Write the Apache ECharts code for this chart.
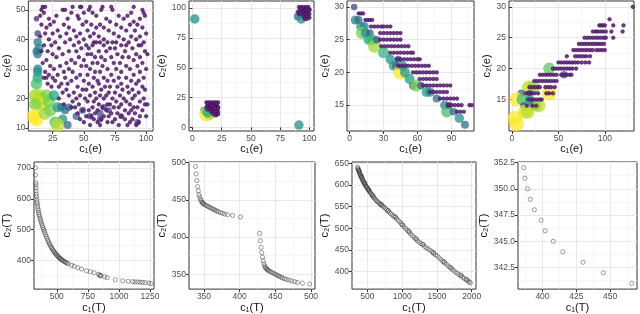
<!DOCTYPE html>
<html><head><meta charset="utf-8">
<script src="https://cdn.jsdelivr.net/npm/echarts@6/dist/echarts.min.js"></script>
<style>html,body{margin:0;padding:0;background:#fff}#c{width:640px;height:314px}</style>
</head><body><div id="c"></div>
<script>
// ---------------- DATA ----------------
// Panel 1 (top-left): colored points [c1, c2, level 0..1]
const P1_COLORED = [
 [12,47,0.1],[13,42,0.2],[13,39,0.4],[14,37,0.45],[12,36,0.35],[13,35,0.4],
 [13,30,0.45],[13,29,0.5],[13,27,0.6],[12,25,0.7],
 [11,21,0.85],[14,21,0.9],[17,20,0.85],[20,21,0.8],[13,19,0.9],[16,18,0.95],[22,19,0.8],[26,21,0.6],[11,18,0.8],
 [10,14,1.0],[12,13,1.0],[19,15,0.85],[23,16,0.8],[29,17,0.55],[32,17,0.4],[35,16,0.35],[38,17,0.3],
 [33,13,0.5],[27,12,0.7],[29,11,0.9],[37,11,0.35],[44,14,0.3],[49,16,0.25],[55,14,0.2],[63,15,0.25],
 [63,13,0.2],[66,17,0.2],[70,16,0.15],[80,14,0.15],[93,12,0.2]
];
// Panel 1 purple points by row: [c2, [c1 values]]
const P1_PURPLE_ROWS = [
 [51,[17,19,41,47,48,55,65,72,90]],
 [50,[16,33,35,54,64,73,97]],
 [49,[18,40,50,57,88,98]],
 [48,[15,28,45,60,78,85,99]],
 [47,[22,37,46,68,82,95]],
 [46,[26,52,71,90]],
 [45,[16,23,34,49,56,63,76,87,93]],
 [44,[20,38,60,66,80,97]],
 [43,[29,42,53,70,84,91]],
 [42,[19,25,36,47,58,74,100]],
 [41,[15,31,44,55,62,78,88,95]],
 [40,[22,39,50,66,82,92]],
 [39,[27,35,46,58,60,63,69,73,76,86,98]],
 [38,[18,24,42,52,57,66,80,84,94,96]],
 [37,[30,48,54,71,75,89]],
 [36,[16,21,38,44,62,68,83,99]],
 [35,[25,33,53,56,77,92,101]],
 [34,[28,46,59,64,72,81,86,95]],
 [33,[20,40,50,67,90]],
 [32,[17,36,43,57,61,74,79,97]],
 [31,[23,31,48,52,65,84,93]],
 [30,[26,38,55,69,76,87,100]],
 [29,[19,34,41,59,63,80,95]],
 [28,[22,29,47,53,72,90]],
 [27,[18,20,25,35,44,58,66,78,84,98]],
 [26,[27,40,50,61,69,74,88,94]],
 [25,[21,32,37,54,62,80,92]],
 [24,[24,30,45,57,67,71,77,85,97]],
 [23,[36,49,52,64,81,89,99]],
 [22,[33,42,59,70,75,86,94]],
 [21,[38,47,55,63,68,79,91]],
 [20,[30,44,51,60,66,73,82,89,98]],
 [19,[41,53,58,76,84,95]],
 [18,[34,46,62,69,71,80,87,99,101]],
 [17,[40,43,57,65,74,78,90,93]],
 [16,[49,54,61,68,83,88,97]],
 [15,[45,59,72,77,86,91]],
 [14,[52,56,66,70,80,95,100]],
 [13,[47,58,64,75,83,89]],
 [12,[50,61,69,73,87,94]],
 [11,[55,63,78,85,92]]
];
// Panel 2
const P2_COLORED = [[2,91,0.5],[91,2,0.5],[90,93,0.35],[93,91,0.5],[10,14,0.35],[12,11,1.0],[15,12,0.85],[13,13,0.6]];
const P2_PURPLE = [
 [12,21],[14,21],[16,21],[18,21],[20,21],[22,21],[13,19],[15,19],[17,19],[19,19],[21,19],[12,17],[14,17],[16,17],[18,17],[20,17],[22,17],
 [13,15],[15,15],[17,15],[19,15],[21,15],[22,13],[16,13],[18,13],[20,13],[21,11],[18,11],[20,10],[22,11],[13,20],[20,20],[17,18],[22,16],[19,16],
 [91,101],[93,101],[95,101],[97,101],[99,101],[92,99],[94,99],[96,99],[98,99],[100,99],[90,97],[93,97],[95,97],[97,97],[99,97],
 [91,95],[94,95],[96,95],[98,95],[100,95],[95,93],[97,93],[99,93],[96,91],[98,91],[100,92],[93,100],[98,100],[100,98],[92,96],[97,98]
];
// Panel 3
const P3_COLORED = [
 [4,30,0.2],[5,28,0.45],[8,28,0.35],[10,27,0.5],[13,27,0.45],[11,26,0.8],[14,26,0.5],[17,25,0.6],[18,26,0.3],
 [20,25,0.65],[22,24,0.85],[24,25,0.3],[30,23,0.65],[36,22,0.5],[39,21,0.55],[41,21,0.35],[43,22,0.25],
 [45,20,1.0],[47,21,0.5],[49,20,0.55],[53,19,0.55],[56,18,0.35],[59,18,0.8],[63,18,0.3],[68,17,0.55],
 [71,17,0.5],[77,16,0.35],[84,15,0.45],[86,14,0.7],[88,15,0.25],[92,14,0.3],[97,13,0.5],[102,12,0.35]
];
const P3_PURPLE_ROWS = [
 [29,[8,10,12]],
 [28,[14,16,18,20]],
 [27,[19,22,25,28,30,33,36]],
 [26,[27,30,33,36,39,42,45]],
 [25,[27,30,33,36,39,42,45]],
 [24,[28,31,34,37,40,43,46,49,52]],
 [23,[36,39,42,45,48,51,54,56]],
 [22,[42,45,48,51,54,57,60,62]],
 [21,[43,46,49,52,55,58,61,64,67,70]],
 [20,[56,59,62,65,68,71,74,77]],
 [19,[62,65,68,71,74,77]],
 [18,[65,68,71,74,77,80,83,86,89]],
 [17,[71,74,77,80,83,86]],
 [16,[80,83,86,89,92,95]],
 [15,[87,90,93,96,99,106,108]],
 [14,[95,98,101]]
];
// Panel 4
const P4_COLORED = [
 [40,20,0.75],[56,19,0.3],[18,17,0.9],[23,17,0.85],[10,16,0.3],[19,16,0.2],[40,16,1.0],[5,15,1.0],
 [11,15,0.7],[19,15,0.5],[13,14,0.3],[22,14,0.5],[26,14,0.55],[29,14,0.9],[3,12,1.0],[14,13,0.95],
 [5,11,1.0],[17,13,0.9]
];
const P4_PURPLE_ROWS = [
 [30,[130]],
 [28,[105]],
 [27,[94,96,98,100,109,120]],
 [26,[87,90,92,95,98,101,107,119]],
 [25,[78,81,84,87,90,93,96,99,101,109]],
 [24,[72,75,78,81,84,87,90,93,96,99]],
 [23,[66,69,72,75,78,81,84,87,91,94,97,100]],
 [22,[59,68,71,74,77,80,84]],
 [21,[50,53,56,59,62,65,68,71,75,79,83]],
 [20,[44,47,50,53,56,59,62,65,69]],
 [19,[30,33,36,39,42,45,48,53,56,59,62,64]],
 [18,[24,27,30,33,36,39,42,45,48]],
 [17,[19,22,25,28,30,36,39,42,46]],
 [16,[15,18,21,24,28,37,40,44]],
 [15,[18,21,24,27,30,32]],
 [14,[16,22,26]]
];
// Panel 5 (bottom)
const P5_POINTS = [
 [328,700],[329,677],[331,652],[332,645],[333,635],[334,625],[336,615],[338,607],[340,598],[342,590],[344,584],
 [346,576],[349,568],[352,562],[355,555],[358,549],[362,543],[366,537],[370,531],[374,525],[379,519],[384,513],
 [389,507],[394,501],[399,496],[404,490],[410,484],[416,478],[422,472],[428,466],[434,461],[440,456],[446,451],
 [452,446],[458,442],[464,438],[470,434],[476,430],[482,427],[488,424],[494,421],[500,418],[506,415],[512,413],
 [518,410],[524,408],[530,406],[536,404],[542,402],[550,400],[558,398],[566,396],[574,394],[582,392],[592,390],
 [620,385],[640,382],[670,377],[700,373],[740,367],[770,364],[800,361],[835,356],[845,353],[850,351],[855,352],
 [885,348],[905,345],[970,338],[1030,335],[1075,333],[1110,332],[1130,331],[1150,331],[1170,330],[1190,330],
 [1210,329],[1240,328],[1258,326]
];
// Panel 6
const P6_POINTS = [
 [338,495],[339,485],[340,476],[341,468],[342,462],[343,457],[344,454],[345,451],[346,449],[347,447],[348,446],
 [349,445],[350,444],[352,443],[354,442],[356,441],[358,440],[360,439],[362,438],[364,437],[366,436],[368,435],
 [370,434],[373,433],[376,432],[379,431],[383,430],[390,429],[401,427],
 [428,405],[429,395],[430,386],[431,379],[432,373],[433,368],[434,364],[435,361],[436,359],[437,358],[438,357],
 [439,356],[440,355],[442,354],[444,353],[446,352],[448,351],[450,350],[452,349],[454,348],[456,347],[458,346],
 [460,345],[463,344],[466,343],[469,342],[473,341],[477,340],[481,339],[488,338],[498,337]
];
// Panel 7
const P7_POINTS = [
 [360,641],[364,638],[368,636],[372,634],[377,632],[382,630],[387,628],[392,626],[397,624],[402,622],[407,620],
 [412,618],[418,616],[424,614],[430,612],[436,610],[442,608],[448,606],[455,604],[462,602],[469,600],[476,598],
 [483,596],[490,595],[497,593],[505,591],[513,589],[521,587],[530,585],[540,583],[550,580],[560,578],[572,575],
 [585,572],[598,570],[612,567],[626,564],[640,562],[655,560],[670,557],[686,555],[702,553],[720,551],[738,549],
 [757,546],[776,543],[795,540],[815,537],[835,534],[856,531],[877,528],[898,525],[920,522],[942,518],[964,515],
 [986,511],[1008,507],[1030,503],[1052,499],[1075,495],[1098,491],[1121,487],[1145,483],[1170,479],[1195,475],
 [1220,471],[1245,468],[1270,465],[1296,462],[1322,458],[1348,455],[1374,452],[1400,449],[1426,446],[1452,442],
 [1478,439],[1504,436],[1530,432],[1556,428],[1582,424],[1608,420],[1634,417],[1660,413],[1686,410],[1712,406],
 [1738,403],[1764,399],[1790,396],[1816,393],[1842,390],[1868,387],[1894,384],[1920,381],[1946,378],[1966,376],[1980,374],
 [380,633],[420,619],[460,605],[520,589],[580,576],[700,556],[800,541],[900,527],[1000,508],[1100,493],[1200,476],
 [1300,463],[1450,444],[1600,423],[1700,409],[1850,392],[1930,382]
];
// Panel 8
const P8_POINTS = [[386,352],[387,351],[389,350],[391,349],[394,348],[399,347],[402,346],[408,345],[415,344],[430,343],[445,342],[466,341]];

// Tick values
const P1_XTICKS=[25,50,75,100], P1_XMINOR=[12.5,37.5,62.5,87.5], P1_YTICKS=[10,20,30,40,50], P1_YMINOR=[15,25,35,45];
const P2_XTICKS=[0,25,50,75,100], P2_XMINOR=[12.5,37.5,62.5,87.5], P2_YTICKS=[0,25,50,75,100], P2_YMINOR=[12.5,37.5,62.5,87.5];
const P3_XTICKS=[0,30,60,90], P3_XMINOR=[15,45,75,105], P3_YTICKS=[15,20,25,30], P3_YMINOR=[12.5,17.5,22.5,27.5];
const P4_XTICKS=[0,50,100], P4_XMINOR=[25,75,125], P4_YTICKS=[15,20,25,30], P4_YMINOR=[12.5,17.5,22.5,27.5];
const P5_XTICKS=[500,750,1000,1250], P5_XMINOR=[375,625,875,1125], P5_YTICKS=[400,500,600,700], P5_YMINOR=[350,450,550,650];
const P6_XTICKS=[350,400,450,500], P6_XMINOR=[375,425,475], P6_YTICKS=[350,400,450,500], P6_YMINOR=[375,425,475];
const P7_XTICKS=[500,1000,1500,2000], P7_XMINOR=[750,1250,1750], P7_YTICKS=[400,450,500,550,600,650], P7_YMINOR=[375,425,475,525,575,625];
const P8_XTICKS=[400,425,450], P8_XMINOR=[387.5,412.5,437.5,462.5], P8_YTICKS=[342.5,345,347.5,350,352.5], P8_YMINOR=[341.25,343.75,346.25,348.75,351.25];

const NAME_E1='c\u2081(e)', NAME_E2='c\u2082(e)', NAME_T1='c\u2081(T)', NAME_T2='c\u2082(T)';

// ---------------- HELPERS ----------------
function flattenRows(rows){const out=[];rows.forEach(r=>r[1].forEach(x=>out.push([x,r[0]])));return out;}
const VIR=['#440154','#482475','#414487','#355f8d','#2a788e','#21918c','#22a884','#44bf70','#7ad151','#bddf26','#fde725'];
function hx(h){return [parseInt(h.slice(1,3),16),parseInt(h.slice(3,5),16),parseInt(h.slice(5,7),16)];}
function viridis(t){t=Math.max(0,Math.min(1,t));const s=t*10,i=Math.min(9,Math.floor(s)),f=s-i;const a=hx(VIR[i]),b=hx(VIR[i+1]);
 return 'rgb('+a.map((v,k)=>Math.round(v+(b[k]-v)*f)).join(',')+')';}

const FONT='"Liberation Sans","DejaVu Sans",Arial,sans-serif';
const panels=[
 {g:{left:24,top:1,width:129,height:130},x:{min:5.5,max:105.5,t:P1_XTICKS,m:P1_XMINOR,n:NAME_E1,gap:9},y:{min:9,max:53,t:P1_YTICKS,m:P1_YMINOR,n:NAME_E2,gap:11},col:P1_COLORED,pur:flattenRows(P1_PURPLE_ROWS)},
 {g:{left:189,top:1,width:125,height:130},x:{min:-2.9,max:103.9,t:P2_XTICKS,m:P2_XMINOR,n:NAME_E1,gap:9},y:{min:-3,max:106,t:P2_YTICKS,m:P2_YMINOR,n:NAME_E2,gap:15},col:P2_COLORED,pur:P2_PURPLE},
 {g:{left:347,top:1,width:127,height:130},x:{min:-2.3,max:110,t:P3_XTICKS,m:P3_XMINOR,n:NAME_E1,gap:9},y:{min:11.05,max:30.9,t:P3_YTICKS,m:P3_YMINOR,n:NAME_E2,gap:12},col:P3_COLORED,pur:flattenRows(P3_PURPLE_ROWS)},
 {g:{left:509,top:1,width:125,height:130},x:{min:-3.2,max:131.3,t:P4_XTICKS,m:P4_XMINOR,n:NAME_E1,gap:9},y:{min:9.9,max:30.95,t:P4_YTICKS,m:P4_YMINOR,n:NAME_E2,gap:15},col:P4_COLORED,pur:flattenRows(P4_PURPLE_ROWS)},
 {g:{left:33,top:162,width:121,height:130},x:{min:317,max:1282,t:P5_XTICKS,m:P5_XMINOR,n:NAME_T1,gap:9},y:{min:308,max:719,t:P5_YTICKS,m:P5_YMINOR,n:NAME_T2,gap:22},open:P5_POINTS},
 {g:{left:189,top:162,width:126,height:130},x:{min:329,max:505.6,t:P6_XTICKS,m:P6_XMINOR,n:NAME_T1,gap:9},y:{min:330,max:501,t:P6_YTICKS,m:P6_YMINOR,n:NAME_T2,gap:18},open:P6_POINTS},
 {g:{left:352,top:162,width:124,height:130},x:{min:278,max:2062,t:P7_XTICKS,m:P7_XMINOR,n:NAME_T1,gap:9},y:{min:359.5,max:653,t:P7_YTICKS,m:P7_YMINOR,n:NAME_T2,gap:18},open:P7_POINTS},
 {g:{left:518,top:162,width:119,height:130},x:{min:381.9,max:469.9,t:P8_XTICKS,m:P8_XMINOR,n:NAME_T1,gap:9},y:{min:340.45,max:352.55,t:P8_YTICKS,m:P8_YMINOR,n:NAME_T2,gap:27,fmt:v=>Number(v).toFixed(1)},open:P8_POINTS}
];

const grid=[],xAxis=[],yAxis=[],series=[];
function minorAxis(i,a,pos){return {type:'value',gridIndex:i,min:a.min,max:a.max,position:pos,axisLine:{show:false},
 axisTick:{show:false,customValues:a.m},axisLabel:{show:false,customValues:a.m},splitLine:{show:true,lineStyle:{color:'#f2f2f2',width:0.6}}};}
function majorAxis(i,a,pos){return {type:'value',gridIndex:i,min:a.min,max:a.max,position:pos,axisLine:{show:false},
 axisTick:{show:true,length:3,lineStyle:{color:'#333',width:1},customValues:a.t},
 axisLabel:{customValues:a.t,fontSize:8.5,color:'#4d4d4d',margin:3,fontFamily:FONT,formatter:a.fmt||(v=>String(v))},
 splitLine:{show:true,lineStyle:{color:'#e8e8e8',width:1}},
 name:a.n,nameLocation:'middle',nameGap:a.gap,nameTextStyle:{fontSize:11,color:'#111',fontFamily:FONT}};}
panels.forEach((p,i)=>{
 grid.push(Object.assign({show:true,borderColor:'#333',borderWidth:1,backgroundColor:'#fff',containLabel:false},p.g));
 xAxis.push(minorAxis(i,p.x,'top')); xAxis.push(majorAxis(i,p.x,'bottom'));
 yAxis.push(minorAxis(i,p.y,'right')); yAxis.push(majorAxis(i,p.y,'left'));
 const xi=2*i+1, yi=2*i+1;
 if(p.col){
  series.push({type:'scatter',xAxisIndex:xi,yAxisIndex:yi,data:p.col,symbol:'circle',
   symbolSize:v=>4.5+10*v[2],itemStyle:{color:pr=>viridis(pr.value[2]),opacity:0.75},silent:true,z:2});
  series.push({type:'scatter',xAxisIndex:xi,yAxisIndex:yi,data:p.pur,symbol:'circle',symbolSize:3.6,
   itemStyle:{color:'#5a2a78',opacity:0.9,borderColor:'#440154',borderWidth:0.6},silent:true,z:3});
 }
 if(p.open){
  series.push({type:'scatter',xAxisIndex:xi,yAxisIndex:yi,data:p.open,symbol:'circle',symbolSize:4.2,
   itemStyle:{color:'rgba(0,0,0,0)',borderColor:'#333',borderWidth:0.8,opacity:0.6},silent:true,z:2});
 }
});
const chart=echarts.init(document.getElementById('c'),null,{renderer:'canvas'});
chart.setOption({animation:false,backgroundColor:'#fff',grid,xAxis,yAxis,series});
</script></body></html>
